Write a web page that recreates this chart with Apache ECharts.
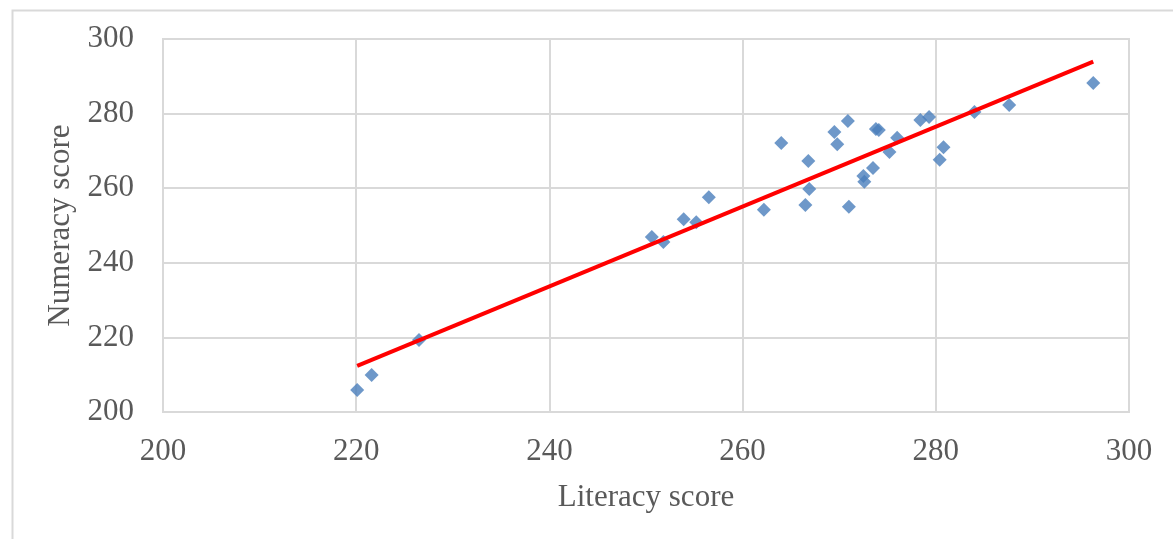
<!DOCTYPE html>
<html>
<head>
<meta charset="utf-8">
<script src="https://cdn.jsdelivr.net/npm/echarts@6/dist/echarts.min.js"></script>
<style>
html,body{margin:0;padding:0;background:#fff;}
#chart{width:1173px;height:539px;}
</style>
</head>
<body>
<div id="chart"></div>
<script>
// Literacy (x) and numeracy (y) scores
const literacy = [220.1, 221.6, 226.5, 250.6, 251.8, 253.9, 255.2, 256.5, 262.2, 264.0,
  266.5, 266.9, 266.8, 269.5, 269.8, 270.9, 271.0, 272.5, 272.6, 273.5,
  273.8, 274.1, 275.2, 276.0, 278.4, 279.3, 280.4, 280.8, 284.0, 287.6, 296.3];
const numeracy = [205.9, 209.9, 219.3, 246.9, 245.6, 251.7, 250.9, 257.6, 254.2, 272.1,
  255.5, 259.8, 267.3, 275.1, 271.8, 278.0, 255.0, 263.3, 261.7, 265.4,
  275.9, 275.6, 269.7, 273.5, 278.3, 279.1, 267.6, 271.0, 280.4, 282.3, 288.2];
const xTicks = [200, 220, 240, 260, 280, 300];
const yTicks = [200, 220, 240, 260, 280, 300];
const xTitle = 'Literacy score';
const yTitle = 'Numeracy score';

const points = literacy.map((x, i) => [x, numeracy[i]]);
// least-squares linear trendline
const n = literacy.length;
const mx = literacy.reduce((a, b) => a + b, 0) / n;
const my = numeracy.reduce((a, b) => a + b, 0) / n;
let sxy = 0, sxx = 0;
for (let i = 0; i < n; i++) { sxy += (literacy[i] - mx) * (numeracy[i] - my); sxx += (literacy[i] - mx) ** 2; }
const slope = sxy / sxx, icpt = my - slope * mx;
const xmin = Math.min(...literacy), xmax = Math.max(...literacy);
const trend = [[xmin, icpt + slope * xmin], [xmax, icpt + slope * xmax]];

const font = '"Liberation Serif","Times New Roman",serif';
const chart = echarts.init(document.getElementById('chart'));
chart.setOption({
  animation: false,
  backgroundColor: '#fff',
  graphic: [{
    type: 'rect', left: 10, top: 8, silent: true,
    shape: { x: 0, y: 0, width: 1300, height: 700 },
    style: { fill: 'none', stroke: '#d9d9d9', lineWidth: 2 }
  }],
  grid: { left: 163, top: 39, right: 44, bottom: 127, show: true, borderColor: '#d9d9d9', borderWidth: 2 },
  xAxis: {
    type: 'value', min: xTicks[0], max: xTicks[xTicks.length - 1], interval: 20,
    name: xTitle, nameLocation: 'middle', nameGap: 70,
    nameTextStyle: { fontFamily: font, fontSize: 31, color: '#595959' },
    axisLine: { show: false }, axisTick: { show: false },
    axisLabel: { fontFamily: font, fontSize: 31, color: '#595959', margin: 24 },
    splitLine: { lineStyle: { color: '#d9d9d9', width: 2 } }
  },
  yAxis: {
    type: 'value', min: yTicks[0], max: yTicks[yTicks.length - 1], interval: 20,
    name: yTitle, nameLocation: 'middle', nameGap: 82, nameRotate: 90,
    nameTextStyle: { fontFamily: font, fontSize: 31, color: '#595959' },
    axisLine: { show: false }, axisTick: { show: false },
    axisLabel: { fontFamily: font, fontSize: 31, color: '#595959', margin: 29, padding: [3, 0, 0, 0] },
    splitLine: { lineStyle: { color: '#d9d9d9', width: 2 } }
  },
  series: [{
    type: 'scatter', data: points, symbol: 'diamond', symbolSize: 14,
    itemStyle: { color: '#4a7ebb' }, z: 3
  }, {
    type: 'line', data: trend, symbol: 'none', z: 4,
    lineStyle: { color: '#ff0000', width: 4 }
  }]
});
</script>
</body>
</html>
